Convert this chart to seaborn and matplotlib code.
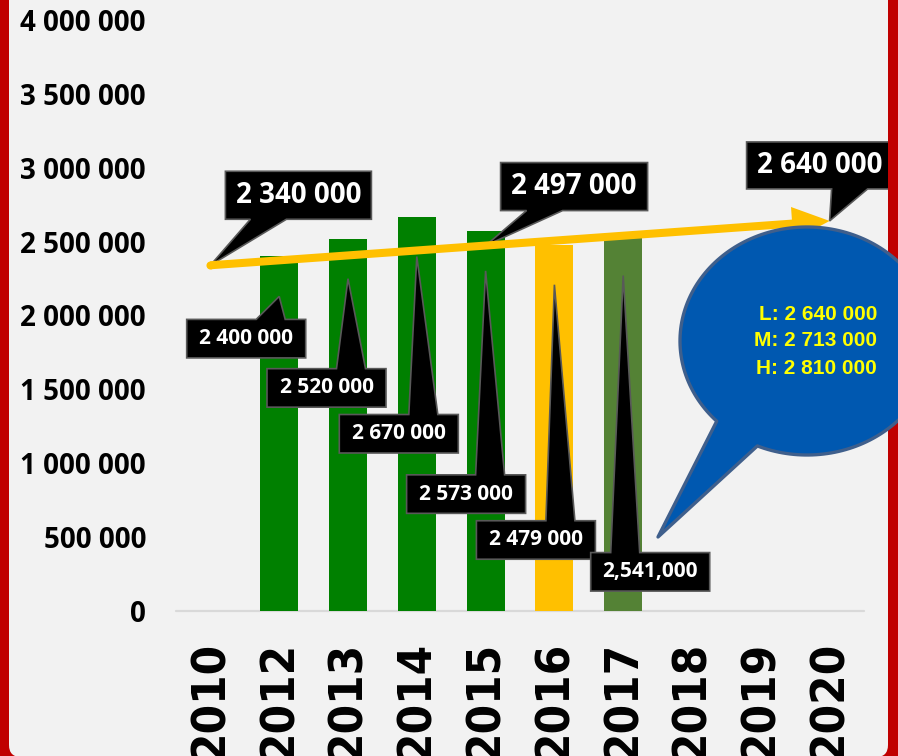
import numpy as np
import pandas as pd
import matplotlib
matplotlib.use("Agg")
import matplotlib.pyplot as plt
import seaborn as sns
from matplotlib.patches import Polygon, FancyBboxPatch, Rectangle, FancyArrowPatch
from matplotlib.ticker import FuncFormatter, MultipleLocator
from matplotlib.transforms import Affine2D
from matplotlib import font_manager as fm

# ---------------- data ----------------
years = ["2010", "2012", "2013", "2014", "2015", "2016", "2017", "2018", "2019", "2020"]
bar_years = ["2012", "2013", "2014", "2015", "2016", "2017"]
bar_values = [2400000, 2520000, 2670000, 2573000, 2479000, 2541000]
bar_colors = ["#008000", "#008000", "#008000", "#008000", "#FFC000", "#548235"]
bar_labels = ["2 400 000", "2 520 000", "2 670 000", "2 573 000", "2 479 000", "2,541,000"]

trend_years = ["2010", "2020"]
trend_values = [2340000, 2640000]
trend_labels = ["2 340 000", "2 640 000"]
mid_year = "2015"
mid_label = "2 497 000"

forecast_lines = ["L: 2 640 000", "M: 2 713 000", "H: 2 810 000"]

# ---------------- style ----------------
sns.set_theme(style="white")
plt.rcParams["font.family"] = ["Open Sans", "DejaVu Sans"]

W, H = 898, 756
fig = plt.figure(figsize=(W / 100, H / 100), dpi=100, facecolor="#C00000")
PX = Affine2D().scale(1 / 100.0) + fig.dpi_scale_trans  # pixel units, origin bottom-left

def up(y):  # top-origin pixel -> bottom-origin
    return H - y

# pick a condensed bold face for the year labels if one is installed
cond_fp = fm.FontProperties(family="DejaVu Sans", weight="bold", stretch="condensed")
cond_file = fm.findfont(cond_fp)
is_condensed = "Condensed" in cond_file
xfont_size = 34 if is_condensed else 30

# light panel with rounded bottom corners
panel = FancyBboxPatch((9, -1), 879, 900, boxstyle="round,pad=0,rounding_size=12",
                       fc="#F2F2F2", ec="none", transform=PX, zorder=-1)
fig.add_artist(panel)

ax = fig.add_axes([176 / W, (H - 611) / H, (864 - 176) / W, (611 - 20) / H])
ax.set_facecolor("none")

df = pd.DataFrame({"year": bar_years, "value": bar_values})
sns.barplot(data=df, x="year", y="value", hue="year", order=years, hue_order=bar_years,
            palette=dict(zip(bar_years, bar_colors)), width=0.55, saturation=1,
            legend=False, ax=ax, linewidth=0, zorder=2)

ax.set_xlim(-0.5, len(years) - 0.5)
ax.set_ylim(0, 4000000)
ax.yaxis.set_major_locator(MultipleLocator(500000))
ax.yaxis.set_major_formatter(FuncFormatter(lambda v, p: f"{int(round(v)):,}".replace(",", " ")))
ax.set_xlabel("")
ax.set_ylabel("")
for s in ax.spines.values():
    s.set_visible(False)
ax.tick_params(axis="y", length=0, pad=21.6)
ax.tick_params(axis="x", length=0, pad=21.5)
for t in ax.get_yticklabels():
    t.set_fontfamily(["Open Sans", "DejaVu Sans"])
    t.set_fontweight("bold")
    t.set_fontsize(20)
    t.set_color("black")
ax.set_xticks(range(len(years)))
ax.set_xticklabels(years, rotation=90, fontfamily="DejaVu Sans", fontweight="bold",
                   fontstretch="condensed", fontsize=xfont_size, color="black")
ax.grid(False)
ax.axhline(0, color="#D9D9D9", lw=1.6, zorder=1, clip_on=False)

# ---------------- trend arrow ----------------
tx = [years.index(y) for y in trend_years]
arrow = FancyArrowPatch((tx[0], trend_values[0]), (tx[1], trend_values[1]),
                        arrowstyle="simple,head_length=2.7,head_width=2.4,tail_width=0.58",
                        mutation_scale=10, color="#FFC000", lw=0, shrinkA=0, shrinkB=0,
                        zorder=5)
ax.add_patch(arrow)
ax.plot([tx[0]], [trend_values[0]], marker="o", ms=5.8, color="#FFC000", mec="none", zorder=5)

# ---------------- callouts ----------------
def callout(anchor_data, tip_dy, box_cx, box_edge, box_w, box_h, base_c, base_w,
            text, size, below):
    """anchor_data in data coords; offsets in pixels (top-origin sense, +y = down)."""
    ax_x, ax_y = ax.transData.transform(anchor_data)
    tip_x = ax_x
    tip_y = H - ax_y + tip_dy  # top-origin
    x0 = tip_x + box_cx - box_w / 2
    x1 = tip_x + box_cx + box_w / 2
    b0 = tip_x + base_c - base_w / 2
    b1 = tip_x + base_c + base_w / 2
    if below:  # box below tip, pointer from top edge
        y0 = tip_y + box_edge
        y1 = y0 + box_h
        pts = [(x0, y0), (b0, y0), (tip_x, tip_y), (b1, y0), (x1, y0), (x1, y1), (x0, y1)]
    else:  # box above tip, pointer from bottom edge
        y1 = tip_y + box_edge
        y0 = y1 - box_h
        pts = [(x0, y0), (x1, y0), (x1, y1), (b1, y1), (tip_x, tip_y), (b0, y1), (x0, y1)]
    poly = Polygon([(p[0], up(p[1])) for p in pts], closed=True, fc="black",
                   ec="#595959", lw=1.2, transform=PX, zorder=4, joinstyle="miter")
    ax.add_patch(poly)
    poly.set_clip_on(False)
    t = ax.text((x0 + x1) / 2, up((y0 + y1) / 2), text, transform=PX, color="white",
                fontsize=size, fontweight="bold", fontfamily=["Open Sans", "DejaVu Sans"],
                ha="center", va="center", zorder=4.5)
    t.set_clip_on(False)

fig.canvas.draw()

# bar callouts (box below the tip)
bar_box_cx = [-33, -21.5, -18, -19.5, -18.5, 27]
bar_box_top = [23, 90, 158, 204, 236, 277]
bar_base_c = [-8.5, 3, 6.5, 4.5, 6, 2]
for i, (yr, v, lab) in enumerate(zip(bar_years, bar_values, bar_labels)):
    callout((years.index(yr), v), 40, bar_box_cx[i], bar_box_top[i], 119, 38.5,
            bar_base_c[i], 29, lab, 15, True)

# trend callouts (box above the tip)
callout((tx[0], trend_values[0]), 0, 88, -46, 146, 48, 58, 36, trend_labels[0], 20, False)
mid_i = years.index(mid_year)
mid_v = trend_values[0] + (trend_values[1] - trend_values[0]) * (mid_i - tx[0]) / (tx[1] - tx[0])
callout((mid_i, mid_v), 0, 88.5, -35, 147, 48, 59, 36, mid_label, 20, False)
callout((tx[1], trend_values[1]), 0, -10, -32, 146, 47, 20, 36, trend_labels[1], 20, False)

# red right strip (covers clipped callout)
fig.add_artist(Rectangle((888, 0), 20, H, fc="#C00000", ec="none", transform=PX, zorder=1))

# ---------------- forecast bubble ----------------
cx, cy, rx, ry = 807, 341, 127, 114
a_start, a_end = np.deg2rad(247), np.deg2rad(224.7 + 360)
ang = np.linspace(a_start, a_end, 200)
ex = cx + rx * np.cos(ang)
ey = up(cy) + ry * np.sin(ang)
pts = list(zip(ex, ey)) + [(658, up(537))]
bubble = Polygon(pts, closed=True, fc="#0058B0", ec="#3F5F8C", lw=2.4,
                 transform=PX, zorder=2, joinstyle="round")
fig.add_artist(bubble)
for k, line in enumerate(forecast_lines):
    fig.text(877 / W, up(314 + 27 * k) / H, line, color="#FFFF00", fontsize=15,
             fontweight="bold", fontfamily=["Liberation Sans", "DejaVu Sans"],
             ha="right", va="center", zorder=3)

fig.savefig("out.png", dpi=100, facecolor=fig.get_facecolor())
